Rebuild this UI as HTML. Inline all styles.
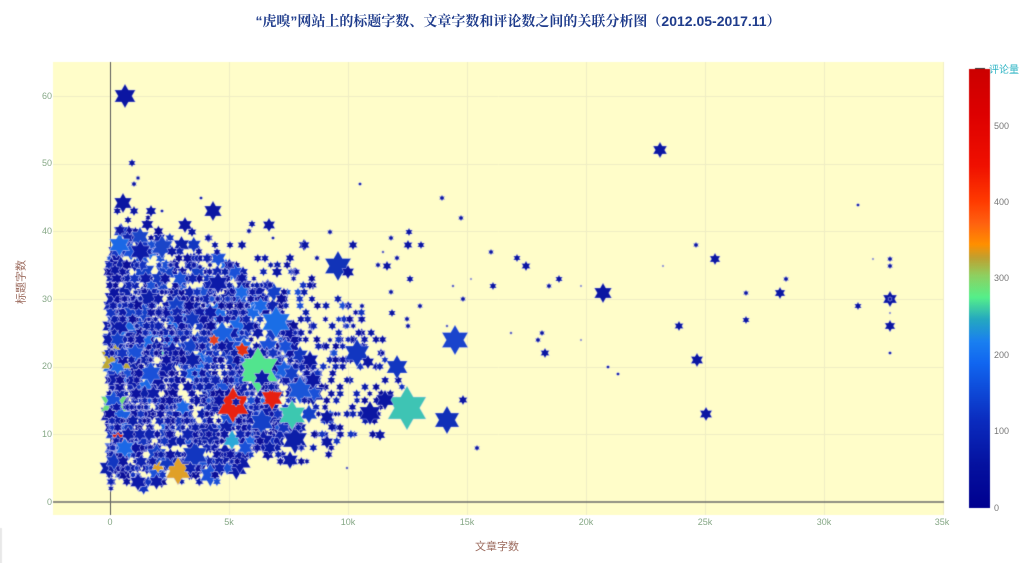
<!DOCTYPE html>
<html><head><meta charset="utf-8">
<style>
html,body{margin:0;padding:0;background:#fff;}
#w{position:relative;width:1024px;height:563px;overflow:hidden;font-family:"Liberation Sans","Noto Sans CJK SC",sans-serif;}
canvas{position:absolute;left:0;top:0;}
.t{position:absolute;white-space:nowrap;line-height:11px;}
.xt{top:517px;font-size:9px;color:#86a886;transform:translateX(-50%);}
.yt{left:14px;width:38px;text-align:right;font-size:9px;color:#86a886;}
.ct{left:994px;font-size:9px;color:#777;}
</style></head><body><div id="w">
<canvas id="c" width="1024" height="563"></canvas>
<div class="t" style="left:0;width:1036px;top:13px;line-height:16px;text-align:center;font-size:14px;font-weight:bold;color:#1f3c8c;font-family:'Liberation Sans','Noto Serif CJK SC',serif;">“虎嗅”网站上的标题字数、文章字数和评论数之间的关联分析图（2012.05-2017.11）</div>
<div class="t xt" style="left:110px">0</div>
<div class="t xt" style="left:229px">5k</div>
<div class="t xt" style="left:348px">10k</div>
<div class="t xt" style="left:467px">15k</div>
<div class="t xt" style="left:586px">20k</div>
<div class="t xt" style="left:705px">25k</div>
<div class="t xt" style="left:824px">30k</div>
<div class="t xt" style="left:942px">35k</div>
<div class="t yt" style="top:497px">0</div>
<div class="t yt" style="top:429px">10</div>
<div class="t yt" style="top:361px">20</div>
<div class="t yt" style="top:294px">30</div>
<div class="t yt" style="top:226px">40</div>
<div class="t yt" style="top:158px">50</div>
<div class="t yt" style="top:91px">60</div>
<div class="t" style="left:497px;top:542px;transform:translateX(-50%);font-size:11px;color:#9c6b5e;">文章字数</div>
<div class="t" style="left:22px;top:282px;transform:translate(-50%,-50%) rotate(-90deg);font-size:11px;color:#9c6b5e;">标题字数</div>
<div class="t ct" style="top:503px">0</div>
<div class="t ct" style="top:426px">100</div>
<div class="t ct" style="top:350px">200</div>
<div class="t ct" style="top:273px">300</div>
<div class="t ct" style="top:197px">400</div>
<div class="t ct" style="top:121px">500</div>
<div class="t" style="left:989px;top:65px;font-size:10px;color:#2eb4c4;">评论量</div>
</div>
<script>
(function(){
var c=document.getElementById('c'),g=c.getContext('2d');
function X(x){return 110.4+x/5000*119;}
function Y(y){return 502-y*6.77;}
g.fillStyle='#e8e8e8';g.fillRect(0,528,2,35);
g.fillStyle='#fffdc9';g.fillRect(53,62,891,453);
g.strokeStyle='#f0eec4';g.lineWidth=1;
for(var i=1;i<=7;i++){var x=Math.round(X(i*5000))+0.5;g.beginPath();g.moveTo(x,62);g.lineTo(x,515);g.stroke();}
for(var j=1;j<=6;j++){var y=Math.round(Y(j*10))+0.5;g.beginPath();g.moveTo(53,y);g.lineTo(944,y);g.stroke();}
g.strokeStyle='#5a5a5a';g.lineWidth=1;g.beginPath();g.moveTo(110.5,62);g.lineTo(110.5,515);g.stroke();
g.strokeStyle='#6a6a6a';g.lineWidth=1.6;g.beginPath();g.moveTo(53,502);g.lineTo(944,502);g.stroke();
var gr=g.createLinearGradient(0,508,0,69);
var st=[[0,'#00008f'],[0.1,'#0512a0'],[0.2,'#0b2cbf'],[0.33,'#1166f0'],[0.38,'#1a80f0'],[0.43,'#25a8c0'],[0.48,'#55f08a'],[0.53,'#8fd060'],[0.57,'#c0a030'],[0.60,'#ff9000'],[0.65,'#ff6010'],[0.70,'#ff3a00'],[0.78,'#f01000'],[0.9,'#dd0000'],[1,'#cc0000']];
st.forEach(function(s){gr.addColorStop(s[0],s[1]);});
g.fillStyle=gr;g.fillRect(969,69,21,439);
g.strokeStyle='#333';g.lineWidth=1;g.beginPath();g.moveTo(975,68.5);g.lineTo(985,68.5);g.stroke();

function rng(seed){return function(){seed|=0;seed=seed+0x6D2B79F5|0;var t=Math.imul(seed^seed>>>15,1|seed);t=t+Math.imul(t^t>>>7,61|t)^t;return((t^t>>>14)>>>0)/4294967296;};}
var R=rng(777);
var SQ=Math.sqrt(3);
function star(cx,cy,r,col,sw){
  var ri=r/SQ;g.beginPath();
  for(var k=0;k<12;k++){var a=-Math.PI/2+k*Math.PI/6;var rr=(k%2==0)?r:ri;var px=cx+rr*Math.cos(a),py=cy+rr*Math.sin(a);if(k==0)g.moveTo(px,py);else g.lineTo(px,py);}
  g.closePath();g.fillStyle=col;g.fill();
  g.lineWidth=sw||0.6;g.strokeStyle='rgba(215,215,250,0.85)';g.stroke();
}
g.save();g.beginPath();g.rect(53,62,891,453);g.clip();

var Et=[[2,165],[3,195],[4,220],[5,240],[7,268],[10,298],[15,318],[20,320],[25,305],[28,295],[30,285],[32,268],[35,238],[38,200],[40,165],[42,150],[45,140],[48,130]];
function E(y){for(var i=0;i<Et.length-1;i++){if(y>=Et[i][0]&&y<=Et[i+1][0]){var f=(y-Et[i][0])/(Et[i+1][0]-Et[i][0]);return Et[i][1]+f*(Et[i+1][1]-Et[i][1]);}}return 130;}
function W(y){if(y<3)return 0.1;if(y<5)return 0.5;if(y<8)return 0.85;if(y<=30)return 1;if(y<=35)return 0.75;if(y<=38)return 0.45;if(y<=40)return 0.25;if(y<=43)return 0.1;return 0.03;}
var dark=['#0a0e98','#0b13a0','#0c18a6','#0a1ca8','#0e22b0','#0b12a0'];
var pts=[];
for(var y=2;y<=48;y++){
  var e=E(y),n=Math.round(W(y)*(e-108)*0.30);
  for(var q=0;q<n;q++){
    var u=R(),s;
    if(u<0.65)s=Math.pow(R(),1.3);else if(u<0.9)s=R();else s=1+R()*0.4;
    var px=109+(e-109)*s;
    var r0=R(),rad;
    if(r0<0.35)rad=3+R()*2;else if(r0<0.80)rad=4.5+R()*2.5;else if(r0<0.95)rad=6.5+R()*3;else rad=9+R()*4;
    if(s>1)rad=Math.min(rad,4.5);
    var col;var cr=R();
    if(rad>8){col=['#1236c0','#1a50d8','#1b68e6','#0c1ea8','#1440c8','#0c1aa8'][Math.floor(R()*6)];}
    else if(cr<0.82)col=dark[Math.floor(R()*dark.length)];
    else if(cr<0.94)col='#1333c0';
    else if(cr<0.99)col='#1a4fd4';
    else col='#1c66e6';
    pts.push({x:px,y:Y(y),r:rad,c:col,k:R()});
  }
}
pts.sort(function(a,b){return a.k-b.k;});
var LEFT=[[116,360,17,'#bca832'],[114,404,15,'#6ee07a'],[122,322,16,'#1a66e0'],[120,418,13,'#1a5ee0'],[118,438,7,'#e01a10'],[122,455,5,'#e82010'],[114,398,4,'#e02010'],[118,370,4,'#50e0a0'],[162,353,4,'#50e0a0']];
var n0=Math.floor(pts.length*0.6), n1=Math.floor(pts.length*0.8);
for(var i=0;i<n0;i++){var p=pts[i];star(p.x,p.y,p.r,p.c);}
LEFT.forEach(function(p){star(p[0],p[1],p[2],p[3]);});
function near(p,list,f){for(var m=0;m<list.length;m++){var b=list[m];var dx=p.x-b[0],dy=p.y-b[1];if(dx*dx+dy*dy<(b[2]*f)*(b[2]*f))return true;}return false;}
for(var i=n0;i<n1;i++){var p=pts[i];star(p.x,p.y,p.r,p.c);}
var BIG=[[276,322,16,'#1a6ee6'],[222,335,14,'#1a60e0'],[300,390,14,'#1a55d8'],[284,370,10,'#1a60e0'],[258,370,23,'#52e48e'],[233,405,18,'#e82210'],[272,398,12,'#e62010'],[242,350,8,'#e83010'],[214,340,6,'#e84020'],[292,415,15,'#3cc8b0'],[232,440,10,'#2aa8d8'],[262,422,13,'#1440c8'],[178,471,14,'#e0a028'],[158,466,7,'#e0a028'],[195,455,14,'#1236c0'],[162,247,12,'#1a45c8'],[140,237,10,'#1a45c8'],[300,355,9,'#1236c0'],[295,440,14,'#0c1ea8'],[290,460,9,'#0c1aa8'],[138,482,9,'#0c1aa8']];
BIG.forEach(function(p){star(p[0],p[1],p[2],p[3]);});
var keyC=BIG.filter(function(p){return p[3]!='#0c1ea8'&&p[3]!='#0c1aa8';});
for(var i=n1;i<pts.length;i++){var p=pts[i];
  if(near(p,keyC,0.8))continue;
  star(p.x,p.y,p.r,p.c);}
[[262,378,9,'#0c1aa8'],[218,283,11,'#0c1aa8'],[236,402,5,'#0c1aa8']].forEach(function(p){star(p[0],p[1],p[2],p[3]);});
var H=[
[125,96,12],[132,163,4],[138,178,2.5],[134,184,3],[123,203,10],[134,211,5],[151,211,6],[162,211,2],[201,198,2],[213,211,10],[252,224,4],[249,231,3],[269,225,7],[273,238,2],[185,225,8],[192,232,5],[208,238,4],[215,245,4],[217,252,4],[230,245,4],[242,245,5],[230,265,4],[242,278,6],[277,272,6],[290,258,5],[304,245,6],[317,258,3],[330,232,3],[270,285,4],[200,267,3],[210,265,3],[120,230,6],[128,220,4],[115,270,6],
[360,184,2],[442,198,3],[461,218,3],[305,245,5],[353,245,5],[391,238,3],[409,232,4],[408,245,5],[421,245,4],[338,266,15,'#1133b8'],[348,272,7],[378,265,3],[387,266,5],[397,258,3],[383,252,1.5],[491,252,3],[517,258,4],[526,266,5],[410,279,4],[453,286,1.5],[463,299,3],[493,286,4],[471,279,1.2],[391,292,3],[362,306,3],[347,306,2],[420,306,3],[392,313,4],[407,319,3],[408,326,3],[312,299,4],[455,340,15,'#1a44cc'],[447,326,1.5],[511,333,1.5],[357,353,14,'#1236c0'],[368,362,7],[397,367,12,'#1236c0'],[347,380,4],[329,367,1.5],[310,360,9],[313,380,9],[407,408,22,'#3ec4b4'],[370,413,12],[385,400,10],[447,420,14,'#1030b8'],[463,400,5],[380,435,6],[477,448,3],[327,417,8],[327,442,7],[332,427,5],[347,468,1.5],[330,340,3],[310,332,3],
[603,293,10],[660,150,8],[679,326,5],[697,360,7],[706,414,7],[715,259,6],[696,245,3],[663,266,1.2],[746,293,3],[746,320,4],[780,293,6],[786,279,3],[858,205,2],[858,306,4],[873,259,1.2],[890,259,3],[890,266,3],[890,299,8],[890,299,2.5],[890,313,1.2],[890,326,6],[890,353,2],[542,333,3],[538,340,3],[545,353,5],[581,340,1.2],[608,367,2],[618,374,2],[559,279,4],[549,286,3],[581,286,1.2]
];
H.forEach(function(p){star(p[0],p[1],p[2],p[3]||'#0b16a2',0.5);});
g.restore();
})();
</script>
</body></html>
